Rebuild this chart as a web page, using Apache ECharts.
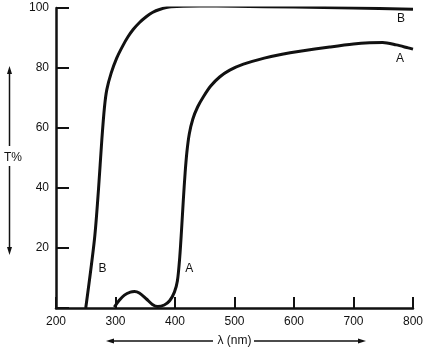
<!DOCTYPE html>
<html>
<head>
<meta charset="utf-8">
<script src="https://cdn.jsdelivr.net/npm/echarts@6/dist/echarts.min.js"></script>
<style>
  html, body {margin: 0; padding: 0; background: #fff;}
  #chart {width: 426px; height: 353px;}
</style>
</head>
<body>
<div id="chart"></div>
<script>
// curve B: wavelength (nm), transmittance (%)
const waveB = [250, 264.7, 271.4, 277, 281.5, 285.4, 292.7, 302, 312, 321, 330, 340, 351.6, 362, 374, 393.6, 441, 500, 600, 700, 800]
const transB = [0, 23, 39.5, 56, 67, 72.8, 78.3, 83.3, 87.3, 90.4, 92.9, 95.1, 97.1, 98.5, 99.5, 100.4, 100.7, 100.6, 100.3, 100, 99.6]

// curve A
const waveA = [298, 306, 315, 325, 332, 340, 352, 362, 371, 382, 391, 399, 404, 408, 411, 414, 417, 420, 424, 430, 438, 448, 460, 475, 492, 515, 550, 580, 610, 660, 700, 727, 749, 772, 792, 800]
const transA = [0.3, 2.5, 4.3, 5.3, 5.5, 5, 3, 1.2, 0.5, 1, 2.4, 5.3, 9, 17, 26, 36, 45, 52, 58, 63, 67, 70.5, 74, 77, 79.3, 81.3, 83.3, 84.6, 85.6, 87, 88, 88.4, 88.5, 87.7, 86.7, 86.3]

// curve letters, placed in data space
const labelsB = [['B', 278, 13], ['B', 780, 96.3]]
const labelsA = [['A', 424, 13], ['A', 778, 83]]

const xTicks = [200, 800, 100]
const yTicks = [0, 100, 20]

const ink = '#111'
const font = 'Liberation Sans, Arial, sans-serif'

const zip = (xs, ys) => xs.map((x, i) => [x, ys[i]])
const marks = (list) => list.map(([t, x, y]) => ({name: t, coord: [x, y], value: t}))

function curve(name, data, letters) {
    return {
        name: name,
        type: 'line',
        data: data,
        showSymbol: false,
        smooth: 0.3,
        lineStyle: {color: ink, width: 3},
        markPoint: {
            symbol: 'circle',
            symbolSize: 0,
            data: letters,
            label: {show: true, position: 'inside', formatter: '{b}', color: ink, fontSize: 12, fontFamily: font}
        }
    }
}

function arrowHead(x, y, dir) {
    // dir: 'up', 'down', 'left', 'right'
    let pts
    if (dir === 'up') pts = [[x, y], [x - 2.5, y + 8], [x + 2.5, y + 8]]
    if (dir === 'down') pts = [[x, y], [x - 2.5, y - 8], [x + 2.5, y - 8]]
    if (dir === 'left') pts = [[x, y], [x + 8, y - 2.5], [x + 8, y + 2.5]]
    if (dir === 'right') pts = [[x, y], [x - 8, y - 2.5], [x - 8, y + 2.5]]
    return {type: 'polygon', shape: {points: pts}, style: {fill: ink}}
}

const arrowLine = (x1, y1, x2, y2) => ({type: 'line', shape: {x1, y1, x2, y2}, style: {stroke: ink, lineWidth: 1.5}})

const chart = echarts.init(document.getElementById('chart'))

chart.setOption({
    backgroundColor: '#fff',
    animation: false,
    grid: {left: 56, right: 13, top: 8, bottom: 45},
    xAxis: {
        type: 'value',
        min: xTicks[0],
        max: xTicks[1],
        interval: xTicks[2],
        name: 'λ (nm)',
        nameLocation: 'middle',
        nameGap: 27,
        nameTextStyle: {color: ink, fontSize: 12, fontFamily: font},
        axisLine: {lineStyle: {color: ink, width: 2.5}},
        axisTick: {inside: true, length: 11, lineStyle: {color: ink, width: 2}},
        axisLabel: {color: ink, fontSize: 12, fontFamily: font, margin: 8},
        splitLine: {show: false}
    },
    yAxis: {
        type: 'value',
        min: yTicks[0],
        max: yTicks[1],
        interval: yTicks[2],
        name: 'T%',
        nameLocation: 'middle',
        nameRotate: 0,
        nameGap: 34,
        nameTextStyle: {color: ink, fontSize: 12, fontFamily: font},
        axisLine: {lineStyle: {color: ink, width: 2.5}},
        axisTick: {inside: true, length: 13, lineStyle: {color: ink, width: 2}},
        axisLabel: {
            color: ink, fontSize: 12, fontFamily: font, margin: 7,
            formatter: (v) => (v === 0 ? '' : String(v))
        },
        splitLine: {show: false}
    },
    graphic: [
        arrowLine(9.5, 70, 9.5, 146),
        arrowHead(9.5, 66, 'up'),
        arrowLine(9.5, 166, 9.5, 250),
        arrowHead(9.5, 255, 'down'),
        arrowLine(110, 341, 213, 341),
        arrowHead(106, 341, 'left'),
        arrowLine(254, 341, 360, 341),
        arrowHead(366, 341, 'right')
    ],
    series: [
        curve('B', zip(waveB, transB), marks(labelsB)),
        curve('A', zip(waveA, transA), marks(labelsA))
    ]
})
</script>
</body>
</html>
